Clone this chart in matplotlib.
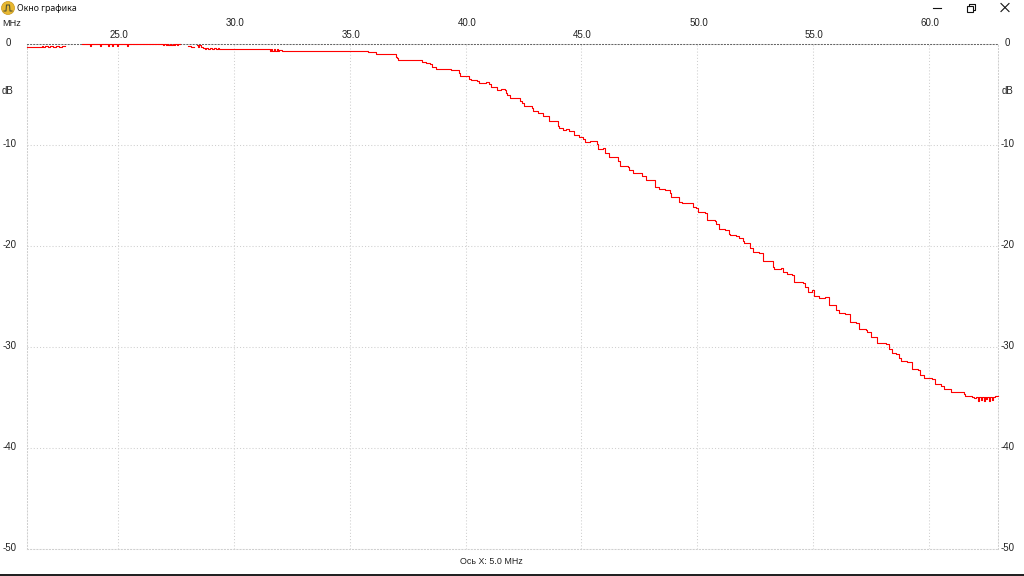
import matplotlib
matplotlib.use("Agg")
import matplotlib.pyplot as plt
from matplotlib.patches import Circle, Rectangle
from matplotlib.transforms import blended_transform_factory

nan = float('nan')

# readings, (MHz, dB) at every step; nan is where the trace drops out
start_mhz = [21.06, 21.71, 21.77, 21.85, 21.98, 22.07, 22.20, 22.33, 22.46, 22.59, 22.72,
             23.45, 23.79, 23.84, 24.22, 24.27, 24.57, 24.61, 24.74, 24.78, 24.96, 25.00, 25.39, 25.43,
             26.94, 27.00, 27.06, 27.12, 27.18, 27.24, 27.30, 27.36, 27.42, 27.48, 27.54, 27.60, 27.67,
             28.02, 28.15, 28.30,
             28.40, 28.46, 28.52, 28.58, 28.66, 28.74, 28.82, 28.90, 28.98, 29.06, 29.14, 29.22, 29.30, 29.38, 29.48,
             31.55, 31.61, 31.67, 31.73, 31.79, 31.85, 31.91, 31.97, 32.07]
start_db = [-0.33, -0.17, -0.33, -0.17, -0.33, -0.17, -0.33, -0.17, -0.33, -0.17, nan,
            0.0, -0.15, 0.0, -0.15, 0.0, -0.15, 0.0, -0.15, 0.0, -0.15, 0.0, -0.15, 0.0,
            -0.13, 0.0, -0.13, 0.0, -0.13, 0.0, -0.13, 0.0, -0.13, 0.0, -0.13, 0.0, nan,
            -0.2, -0.28, nan,
            -0.1, -0.3, -0.12, -0.3, -0.35, -0.45, -0.35, -0.45, -0.35, -0.45, -0.35, -0.45, -0.35, -0.45, -0.5,
            -0.7, -0.5, -0.7, -0.5, -0.7, -0.5, -0.7, -0.55, -0.7]

upper_mhz = [35.79, 36.15, 36.98, 37.04, 37.10, 38.13, 38.30, 38.48, 38.56, 38.74, 39.38, 39.71, 39.77,
             40.14, 40.25, 40.48, 40.58, 40.89, 41.00, 41.11, 41.35, 41.54, 41.71, 41.76, 41.80, 41.90,
             42.18, 42.33, 42.45, 42.52, 42.87, 42.93, 43.12, 43.36, 43.62]
upper_db = [-0.83, -1.00, -1.25, -1.42, -1.58, -1.82, -1.88, -1.95, -2.24, -2.51, -2.61, -2.84, -3.17,
            -3.43, -3.56, -3.62, -3.86, -3.73, -3.99, -4.22, -4.55, -4.46, -4.55, -4.85, -5.05, -5.31,
            -5.38, -5.61, -5.82, -6.14, -6.37, -6.63, -6.86, -7.13, -7.62]

mid_mhz = [43.98, 44.05, 44.22, 44.34, 44.45, 44.66, 44.89, 45.06, 45.17, 45.35, 45.66, 45.70, 45.92,
           46.02, 46.18, 46.47, 46.57, 46.67, 47.00, 47.04, 47.24, 47.57, 47.62, 47.79, 48.18, 48.33,
           48.62, 48.82, 48.87, 49.15, 49.20, 49.34, 49.80, 49.94, 50.01]
mid_db = [-8.11, -8.35, -8.51, -8.38, -8.61, -9.04, -9.24, -9.43, -9.70, -9.57, -9.90, -10.42, -10.33,
          -10.82, -11.15, -11.22, -11.55, -12.07, -12.14, -12.47, -12.73, -12.80, -13.06, -13.46, -14.12, -14.38,
          -14.45, -14.78, -15.11, -15.18, -15.61, -15.77, -16.10, -16.27, -16.66]

lower_mhz = [50.31, 50.41, 50.74, 50.81, 50.95, 51.21, 51.35, 51.41, 51.67, 51.79, 51.96, 52.03, 52.27,
             52.42, 52.68, 52.82, 52.85, 53.25, 53.32, 53.61, 53.68, 53.85, 54.08, 54.18, 54.54, 54.66,
             54.76, 54.95, 55.05, 55.23, 55.52, 55.66, 56.00, 56.12, 56.37, 56.58, 56.84, 56.98, 57.27,
             57.34, 57.48, 57.73, 57.77, 58.13, 58.25, 58.39, 58.56, 58.68, 58.78, 59.06, 59.25, 59.28,
             59.54, 59.60, 59.78, 60.14, 60.26, 60.50, 60.64, 60.93, 61.51, 61.55]
lower_db = [-16.77, -17.43, -17.50, -17.83, -18.32, -18.42, -18.82, -18.95, -19.01, -19.25, -19.48, -19.74, -20.24,
            -20.57, -20.73, -21.06, -21.49, -22.05, -22.28, -22.22, -22.55, -22.81, -22.88, -23.60, -23.70, -24.03,
            -24.53, -24.36, -24.95, -25.19, -25.09, -25.85, -26.34, -26.67, -26.74, -27.56, -27.66, -28.22, -28.32,
            -28.55, -28.98, -29.04, -29.57, -29.67, -30.20, -30.56, -30.69, -31.12, -31.38, -31.52, -31.71, -32.18,
            -32.28, -32.77, -33.03, -33.17, -33.69, -33.83, -34.16, -34.49, -34.68, -34.82]

end_mhz = [61.86, 61.94, 62.00, 62.11, 62.15, 62.23, 62.27, 62.35, 62.39, 62.47, 62.51, 62.59, 62.63,
           62.71, 62.75, 62.84, 62.97]
end_db = [-34.92, -35.05, -34.92, -35.3, -34.95, -35.2, -34.92, -35.35, -34.95, -35.15, -34.92, -35.35, -34.95,
          -35.25, -34.95, -34.9, -34.9]

freq_mhz = start_mhz + upper_mhz + mid_mhz + lower_mhz + end_mhz
level_db = start_db + upper_db + mid_db + lower_db + end_db

x_ticks = [25, 30, 35, 40, 45, 50, 55, 60]
x_tick_labels = ["25.0", "30.0", "35.0", "40.0", "45.0", "50.0", "55.0", "60.0"]
y_ticks = [0, -10, -20, -30, -40, -50]
y_tick_labels = ["0", "-10", "-20", "-30", "-40", "-50"]

W, H = 1024, 576
FONT = 'Liberation Sans'
TEXT_COL = '#222222'


def main():
    fig = plt.figure(figsize=(W / 100, H / 100), dpi=100, facecolor='white')

    ax = fig.add_axes([26.5 / W, 1 - 549 / H, 971.5 / W, 505 / H])
    ax.set_xlim(21.06, 62.97)
    ax.set_ylim(-50, 0)
    ax.set_xticks(x_ticks)
    ax.set_yticks(y_ticks)
    ax.tick_params(length=0, labelbottom=False, labelleft=False)
    ax.grid(True, color='#cfcfcf', linestyle=(0, (1, 2)), linewidth=0.75)
    for name, spine in ax.spines.items():
        spine.set_linestyle((0, (1, 2)))
        spine.set_linewidth(0.75)
        spine.set_edgecolor('#666666' if name == 'top' else '#cfcfcf')

    ax.step(freq_mhz, level_db, where='post', color='#ff0000', linewidth=0.8, clip_on=False, zorder=3)

    # frequency labels sit on two alternating rows above the plot
    top = blended_transform_factory(ax.transData, fig.transFigure)
    for i, (tick, label) in enumerate(zip(x_ticks, x_tick_labels)):
        row_y = 35 if i % 2 == 0 else 23
        ax.text(tick + 0.05, 1 - row_y / H, label, transform=top, ha='center', va='center',
                fontsize=7, family=FONT, color=TEXT_COL)

    side = blended_transform_factory(fig.transFigure, ax.transData)
    for tick, label in zip(y_ticks, y_tick_labels):
        left_px = 8 if label == "0" else 10
        for px in (left_px, 1007.5):
            ax.text(px / W, tick + 0.1, label, transform=side, ha='center', va='center',
                    fontsize=7, family=FONT, color=TEXT_COL)

    # window chrome and the loose labels, in pixel coordinates
    win = fig.add_axes([0, 0, 1, 1], facecolor='none')
    win.set_xlim(0, W)
    win.set_ylim(H, 0)
    win.axis('off')

    win.text(2, 23, "MHz", ha='left', va='center', fontsize=6.6, family=FONT, color=TEXT_COL)
    win.text(7, 91, "dB", ha='center', va='center', fontsize=7, family=FONT, color=TEXT_COL)
    win.text(1007, 91, "dB", ha='center', va='center', fontsize=7, family=FONT, color=TEXT_COL)
    win.text(491.5, 562, "Ось X: 5.0 MHz", ha='center', va='center', fontsize=6.4, family=FONT, color=TEXT_COL)
    win.text(17, 8.5, "Окно графика", ha='left', va='center', fontsize=6.3, family='Noto Sans', color='#111111')

    # icon
    win.add_patch(Circle((8, 8), 6.5, facecolor='#e8b830', edgecolor='#c89820', linewidth=0.5))
    win.plot([4, 6, 6.5, 9.5, 10, 12], [11, 11, 5, 5, 11, 11], color='#555533', linewidth=0.8)

    # minimise, restore, close
    win.plot([933, 941], [7.5, 7.5], color='#111111', linewidth=0.8)
    win.add_patch(Rectangle((967, 5.5), 6, 6, facecolor='white', edgecolor='#111111', linewidth=0.8))
    win.plot([969, 969, 975, 975, 973.5], [5.5, 3.5, 3.5, 9.5, 9.5], color='#111111', linewidth=0.8)
    win.plot([1001, 1009], [3.5, 11.5], color='#111111', linewidth=0.8)
    win.plot([1001, 1009], [11.5, 3.5], color='#111111', linewidth=0.8)

    # bottom edge of the screenshot
    win.add_patch(Rectangle((0, 574), W, 2, facecolor='#222222', edgecolor='none'))

    fig.savefig("out.png", dpi=100)


if __name__ == "__main__":
    main()
